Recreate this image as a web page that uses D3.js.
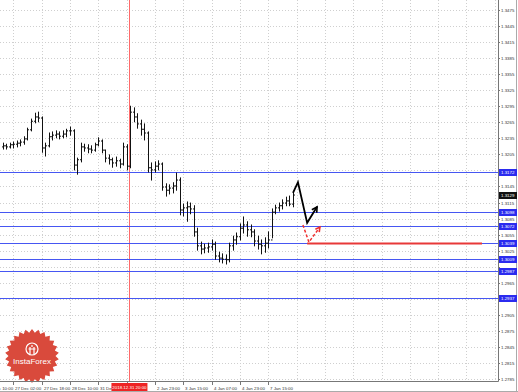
<!DOCTYPE html>
<html><head><meta charset="utf-8">
<script src="https://cdn.jsdelivr.net/npm/d3@7"></script>
<style>html,body{margin:0;padding:0;background:#fff;overflow:hidden}</style>
</head><body><svg id="c" width="518" height="392"></svg>
<script>
// 2-hour OHLC bars (open = previous close)
const highs=[1.3226,1.3224,1.3226,1.3228,1.3230,1.3232,1.3238,1.3254,1.3271,1.3282,1.3284,1.3275,1.3226,1.3245,1.3247,1.3249,1.3247,1.3249,1.3252,1.3256,
1.3251,1.3198,1.3226,1.3224,1.3223,1.3221,1.3226,1.3236,1.3232,1.3213,1.3204,1.3198,1.3200,1.3196,1.3226,1.3223,1.3295,1.3292,1.3281,1.3269,
1.3262,1.3247,1.3189,1.3191,1.3193,1.3189,1.3150,1.3148,1.3152,1.3170,1.3161,1.3112,1.3116,1.3114,1.3109,1.3067,1.3041,1.3037,1.3039,1.3045,
1.3041,1.3022,1.3019,1.3017,1.3039,1.3052,1.3058,1.3075,1.3088,1.3079,1.3073,1.3064,1.3052,1.3045,1.3049,1.3060,1.3103,1.3110,1.3114,1.3120,
1.3125,1.3127,1.3135];
const lows=[1.3215,1.3215,1.3217,1.3217,1.3219,1.3221,1.3224,1.3232,1.3249,1.3264,1.3266,1.3209,1.3202,1.3219,1.3232,1.3236,1.3234,1.3236,1.3238,1.3241,
1.3176,1.3168,1.3191,1.3211,1.3208,1.3208,1.3211,1.3221,1.3208,1.3191,1.3187,1.3181,1.3183,1.3180,1.3185,1.3176,1.3180,1.3266,1.3254,1.3241,
1.3232,1.3172,1.3157,1.3172,1.3176,1.3138,1.3127,1.3131,1.3133,1.3138,1.3092,1.3090,1.3080,1.3094,1.3052,1.3026,1.3019,1.3021,1.3022,1.3026,
1.3009,1.3004,1.3002,1.3000,1.3004,1.3026,1.3037,1.3045,1.3058,1.3052,1.3051,1.3034,1.3028,1.3019,1.3022,1.3030,1.3049,1.3094,1.3099,1.3103,
1.3109,1.3109,1.3107];
const closes=[1.3221,1.3219,1.3223,1.3224,1.3226,1.3228,1.3234,1.3251,1.3267,1.3275,1.3273,1.3217,1.3221,1.3238,1.3241,1.3243,1.3239,1.3243,1.3249,1.3249,
1.3185,1.3195,1.3219,1.3217,1.3215,1.3213,1.3223,1.3230,1.3213,1.3198,1.3195,1.3189,1.3193,1.3187,1.3219,1.3183,1.3284,1.3275,1.3262,1.3252,
1.3245,1.3180,1.3176,1.3183,1.3187,1.3144,1.3138,1.3142,1.3146,1.3157,1.3101,1.3105,1.3107,1.3103,1.3060,1.3034,1.3028,1.3030,1.3032,1.3037,
1.3015,1.3011,1.3009,1.3008,1.3034,1.3045,1.3051,1.3067,1.3073,1.3064,1.3060,1.3043,1.3037,1.3034,1.3039,1.3045,1.3097,1.3105,1.3109,1.3114,
1.3118,1.3112,1.3129];
const firstOpen=1.3219;

const yTickValues=[1.3475,1.3445,1.3415,1.3385,1.3355,1.3325,1.3295,1.3265,1.3235,1.3205,1.3175,1.3145,1.3115,1.3085,1.3055,1.3025,1.2995,1.2965,1.2935,1.2905,1.2875,1.2845,1.2815,1.2785];
const timeTickBars=[-5,3,11,19,27,35,43,51,59,67,75];
const timeTickLabels=["26 Dec 10:00","27 Dec 02:00","27 Dec 18:00","28 Dec 10:00","31 Dec 02:00","31 Dec 18:00","2 Jan 23:00","3 Jan 15:00","4 Jan 07:00","4 Jan 23:00","7 Jan 15:00"];
const blueLevels=[1.3172,1.3098,1.3072,1.3039,1.3009,1.2987,1.2937];
const redLevel=1.3039;
const redLevelBars=[86,135.4];
const markerBar=35.8;
const markerLabel="2018.12.31 20:00";
const currentPrice=1.3129;
const forecastBars=[82,83.4,86,88.8];
const forecastPrices=[1.3133,1.3153,1.3077,1.3107];
const altBars=[84.8,86.5,89.6];
const altPrices=[1.3073,1.3041,1.3069];

const W=518,H=392,plotR=498,plotB=381;
const svg=d3.select("#c");
const x=d3.scaleLinear().domain([0,82]).range([2.7,293]);
const y=d3.scaleLinear().domain([1.2785,1.3475]).range([379,10]);
const fmt=d3.format(".4f");
const FONT="Liberation Sans, Arial, sans-serif";
const FS=4.4;

svg.append("rect").attr("width",W).attr("height",H).attr("fill","#fff");
const defs=svg.append("defs");
defs.append("clipPath").attr("id","pc").append("rect").attr("x",0).attr("y",0).attr("width",plotR).attr("height",plotB);
const g=svg.append("g").attr("clip-path","url(#pc)");

// grid
g.selectAll(".hg").data(yTickValues).join("line")
 .attr("x1",0).attr("x2",plotR).attr("y1",d=>Math.round(y(d))+0.5).attr("y2",d=>Math.round(y(d))+0.5)
 .attr("stroke","#cfcfcf").attr("stroke-dasharray","1,2").attr("stroke-width",1);
const gridBars=d3.range(-5,145,8);
g.selectAll(".vg").data(gridBars).join("line")
 .attr("x1",d=>Math.round(x(d))+0.5).attr("x2",d=>Math.round(x(d))+0.5).attr("y1",0).attr("y2",plotB)
 .attr("stroke","#cfcfcf").attr("stroke-dasharray","1,2").attr("stroke-width",1);

// marker vertical line
g.append("line").attr("x1",Math.round(x(markerBar))+0.5).attr("x2",Math.round(x(markerBar))+0.5).attr("y1",0).attr("y2",plotB)
 .attr("stroke","#ff6a6a").attr("stroke-width",1);

// blue levels
g.selectAll(".bl").data(blueLevels).join("line")
 .attr("x1",0).attr("x2",plotR).attr("y1",d=>Math.round(y(d))+0.5).attr("y2",d=>Math.round(y(d))+0.5)
 .attr("stroke","#4656f2").attr("stroke-width",1);

// red level
g.append("line").attr("x1",x(redLevelBars[0])).attr("x2",x(redLevelBars[1]))
 .attr("y1",Math.round(y(redLevel))+0.5).attr("y2",Math.round(y(redLevel))+0.5).attr("stroke","#e83838").attr("stroke-width",1.8);

// OHLC bars
const bars=g.append("g").attr("stroke","#111").attr("stroke-width",1);
closes.forEach((c,i)=>{
  const o=i===0?firstOpen:closes[i-1];
  const cx=Math.round(x(i))+0.5;
  bars.append("line").attr("x1",cx).attr("x2",cx).attr("y1",y(highs[i])-0.5).attr("y2",y(lows[i])+0.5);
  bars.append("line").attr("x1",cx-1.5).attr("x2",cx).attr("y1",y(o)).attr("y2",y(o));
  bars.append("line").attr("x1",cx).attr("x2",cx+1.5).attr("y1",y(c)).attr("y2",y(c));
});

// forecast black
const fpts=forecastBars.map((b,i)=>[x(b),y(forecastPrices[i])]);
g.append("path").attr("d",d3.line()(fpts)).attr("fill","none").attr("stroke","#000").attr("stroke-width",1.8).attr("stroke-linejoin","miter");
function arrowHead(p0,p1,color,len){
  const a=Math.atan2(p1[1]-p0[1],p1[0]-p0[0]);
  const s=0.5;
  const pA=[p1[0]-len*Math.cos(a-s),p1[1]-len*Math.sin(a-s)];
  const pB=[p1[0]-len*Math.cos(a+s),p1[1]-len*Math.sin(a+s)];
  g.append("path").attr("d",d3.line()([pA,p1,pB])).attr("fill","none").attr("stroke",color).attr("stroke-width",1.6);
}
arrowHead(fpts[2],fpts[3],"#000",6);
const apts=altBars.map((b,i)=>[x(b),y(altPrices[i])]);
g.append("path").attr("d",d3.line()(apts)).attr("fill","none").attr("stroke","#ee3030").attr("stroke-width",1.5).attr("stroke-dasharray","3,2");
arrowHead(apts[1],apts[2],"#ee3030",5);

// logo
const lg=svg.append("g").attr("transform","translate(32,356)");
const nPts=26, rO=27, rI=23.5;
const star=d3.range(nPts*2).map(k=>{const r=k%2?rI:rO;const a=k*Math.PI/nPts;return [r*Math.sin(a),-r*Math.cos(a)];});
lg.append("path").attr("d",d3.line().curve(d3.curveLinearClosed)(star)).attr("fill","#d94a3c");
lg.append("circle").attr("r",6).attr("cy",-7).attr("fill","none").attr("stroke","#fff").attr("stroke-width",1.2);
lg.append("path").attr("d","M-2,-9 L-2,-2 M2,-9 L2,-2 M-3.5,-7 L3.5,-7 M0,-11 L0,-9").attr("stroke","#fff").attr("stroke-width",1.2);
lg.append("text").attr("y",8).attr("text-anchor","middle").attr("fill","#fff").attr("font-family",FONT).attr("font-size",8).text("InstaForex");

// axes frame
svg.append("line").attr("x1",plotR+0.5).attr("x2",plotR+0.5).attr("y1",0).attr("y2",plotB+0.5).attr("stroke","#777");
svg.append("line").attr("x1",0).attr("x2",plotR+0.5).attr("y1",plotB+0.5).attr("y2",plotB+0.5).attr("stroke","#777");
svg.append("line").attr("x1",W-1.5).attr("x2",W-1.5).attr("y1",0).attr("y2",H).attr("stroke","#aaa");
svg.append("line").attr("x1",0).attr("x2",W).attr("y1",H-0.5).attr("y2",H-0.5).attr("stroke","#aaa");

// y tick labels (those hidden under a price tag are skipped, as in the terminal)
const yAx=svg.append("g");
const tagged=blueLevels.concat([currentPrice]);
yTickValues.forEach(v=>{
  const yy=Math.round(y(v))+0.5;
  yAx.append("line").attr("x1",plotR).attr("x2",plotR+2).attr("y1",yy).attr("y2",yy).attr("stroke","#777");
  if(tagged.some(t=>Math.abs(y(t)-y(v))<6.5)) return;
  yAx.append("text").attr("x",plotR+3).attr("y",yy).attr("dy","0.35em").attr("font-family",FONT).attr("font-size",FS).attr("fill","#333").text(fmt(v));
});
function priceTag(v,bg){
  const yy=Math.round(y(v))+0.5;
  yAx.append("rect").attr("x",plotR+1).attr("y",yy-3.5).attr("width",18).attr("height",7).attr("fill",bg);
  yAx.append("text").attr("x",plotR+3).attr("y",yy).attr("dy","0.35em").attr("font-family",FONT).attr("font-size",FS).attr("fill","#fff").text(fmt(v));
}
blueLevels.forEach(v=>priceTag(v,"#2b2bef"));
priceTag(currentPrice,"#111");

// x tick labels
const xAx=svg.append("g");
const mx=x(markerBar);
timeTickBars.forEach((b,i)=>{
  const xx=Math.round(x(b))+0.5;
  xAx.append("line").attr("x1",xx).attr("x2",xx).attr("y1",plotB).attr("y2",plotB+4).attr("stroke","#777");
  if(Math.abs(x(b)-mx)<12) return; // hidden under the marker tag
  xAx.append("text").attr("x",xx+1.5).attr("y",388).attr("dy","0.35em").attr("font-family",FONT).attr("font-size",FS).attr("fill","#333").text(timeTickLabels[i]);
});
// marker label
xAx.append("rect").attr("x",mx-18).attr("y",383).attr("width",36).attr("height",8).attr("fill","#ee2424");
xAx.append("text").attr("x",mx).attr("y",387.5).attr("dy","0.35em").attr("text-anchor","middle").attr("font-family",FONT).attr("font-size",FS).attr("fill","#fff").text(markerLabel);
</script></body></html>
